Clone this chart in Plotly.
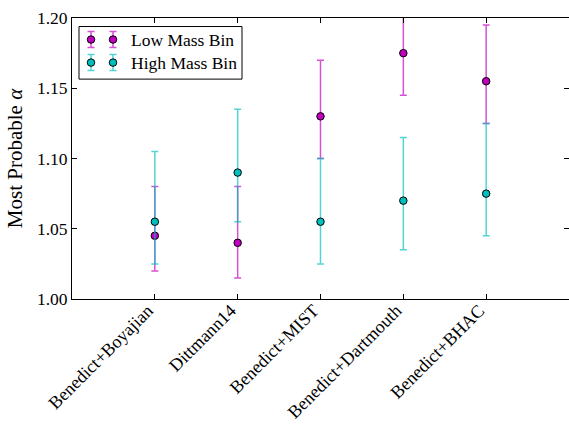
import plotly.graph_objects as go

# Isochrone / calibration sets
categories = ["Benedict+Boyajian", "Dittmann14", "Benedict+MIST",
              "Benedict+Dartmouth", "Benedict+BHAC"]

# Most probable alpha with asymmetric uncertainties
low_alpha = [1.045, 1.040, 1.130, 1.175, 1.155]
low_err_plus = [0.035, 0.040, 0.040, 0.035, 0.040]
low_err_minus = [0.025, 0.025, 0.030, 0.030, 0.030]

high_alpha = [1.055, 1.090, 1.055, 1.070, 1.075]
high_err_plus = [0.050, 0.045, 0.045, 0.045, 0.050]
high_err_minus = [0.030, 0.035, 0.030, 0.035, 0.030]

y_ticks = [1.00, 1.05, 1.10, 1.15, 1.20]

MAG = "rgb(191,0,191)"
CYA = "rgb(0,191,191)"
MAG_E = "rgba(191,0,191,0.68)"
CYA_E = "rgba(0,191,191,0.68)"
FONT = "Liberation Serif"

xpos = list(range(len(categories)))

fig = go.Figure()


def series(y, ep, em, color, ecolor, name):
    return go.Scatter(
        x=xpos, y=y, mode="markers", name=name, showlegend=False,
        marker=dict(size=7.5, color=color, line=dict(color="black", width=1)),
        error_y=dict(type="data", symmetric=False, array=ep, arrayminus=em,
                     color=ecolor, thickness=1.5, width=3.5),
    )


fig.add_trace(series(low_alpha, low_err_plus, low_err_minus, MAG, MAG_E, "Low Mass Bin"))
fig.add_trace(series(high_alpha, high_err_plus, high_err_minus, CYA, CYA_E, "High Mass Bin"))

# Legend drawn on a pixel-scaled overlay axis (two sample points per entry)
legend_rows = [("Low Mass Bin", MAG, MAG_E, 21.5), ("High Mass Bin", CYA, CYA_E, 44.5)]
for label, col, ecol, yy in legend_rows:
    fig.add_trace(go.Scatter(
        x=[19, 41], y=[yy, yy], xaxis="x2", yaxis="y2", mode="markers",
        showlegend=False, hoverinfo="skip",
        marker=dict(size=7.5, color=col, line=dict(color="black", width=1)),
        error_y=dict(type="constant", value=8, color=ecol, thickness=1.5, width=3.5),
    ))
    fig.add_annotation(x=57, y=yy, xref="x2", yref="y2", text=label,
                       showarrow=False, xanchor="left", yanchor="middle",
                       font=dict(family=FONT, size=17.5, color="black"))

fig.add_shape(type="rect", xref="x2", yref="y2", x0=7, x1=170, y0=8.5, y1=61,
              line=dict(color="black", width=1), fillcolor="white", layer="below")

axis_common = dict(
    showline=True, linecolor="black", linewidth=1, mirror="allticks",
    ticks="inside", ticklen=5, tickcolor="black", tickwidth=1,
    showgrid=False, zeroline=False, automargin=False,
)

fig.update_layout(
    width=569, height=427,
    margin=dict(l=72, r=0, t=18, b=128),
    plot_bgcolor="white", paper_bgcolor="white",
    xaxis=dict(range=[-1, 5], tickmode="array", tickvals=xpos, ticktext=categories,
               tickangle=-45, tickfont=dict(family=FONT, size=18, color="black"),
               ticklabelstandoff=-7, ticklabelshift=-7,
               **axis_common),
    yaxis=dict(range=[1.0, 1.2], tickmode="array", tickvals=y_ticks,
               ticktext=[f"{v:.2f}" for v in y_ticks],
               tickfont=dict(family=FONT, size=17.5, color="black"),
               title=dict(text="Most Probable <i>α</i>", standoff=8,
                          font=dict(family=FONT, size=21, color="black")),
               **axis_common),
    xaxis2=dict(range=[0, 497], overlaying="x", anchor="y2", visible=False),
    yaxis2=dict(range=[280.5, 0], overlaying="y", anchor="x2", visible=False),
)

fig.write_html("out.html")
